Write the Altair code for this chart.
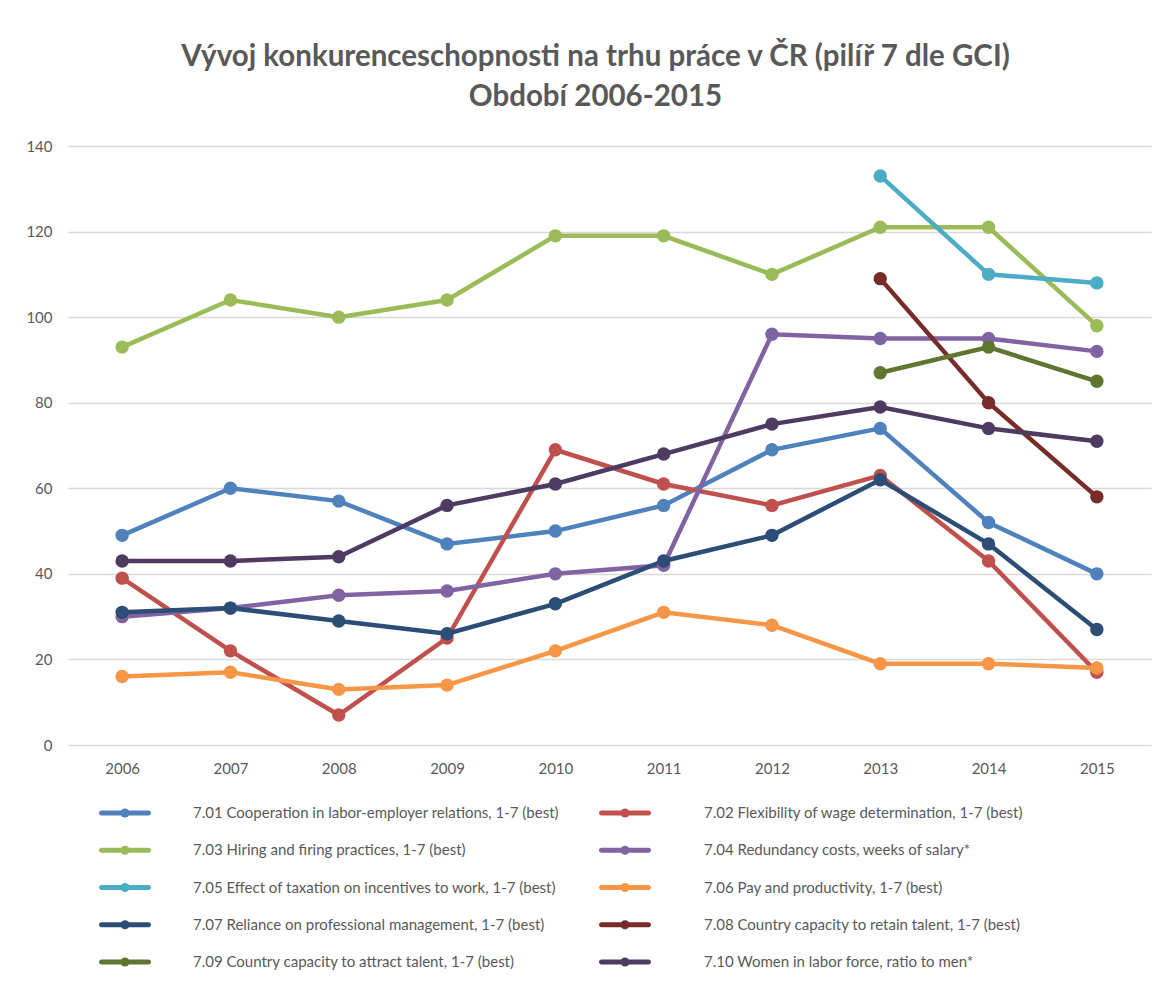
import altair as alt
import pandas as pd

years = ["2006", "2007", "2008", "2009", "2010", "2011", "2012", "2013", "2014", "2015"]

labels = [
    "7.01 Cooperation in labor-employer relations, 1-7 (best)",
    "7.02 Flexibility of wage determination, 1-7 (best)",
    "7.03 Hiring and firing practices, 1-7 (best)",
    "7.04 Redundancy costs, weeks of salary*",
    "7.05 Effect of taxation on incentives to work, 1-7 (best)",
    "7.06 Pay and productivity, 1-7 (best)",
    "7.07 Reliance on professional management, 1-7 (best)",
    "7.08 Country capacity to retain talent, 1-7 (best)",
    "7.09 Country capacity to attract talent, 1-7 (best)",
    "7.10 Women in labor force, ratio to men*",
]

colors = ["#4F81BD", "#C0504D", "#9BBB59", "#8064A2", "#4BACC6",
          "#F79646", "#2C4D75", "#772C2A", "#5F7530", "#4D3B62"]

v701 = [49, 60, 57, 47, 50, 56, 69, 74, 52, 40]
v702 = [39, 22, 7, 25, 69, 61, 56, 63, 43, 17]
v703 = [93, 104, 100, 104, 119, 119, 110, 121, 121, 98]
v704 = [30, 32, 35, 36, 40, 42, 96, 95, 95, 92]
v705 = [None, None, None, None, None, None, None, 133, 110, 108]
v706 = [16, 17, 13, 14, 22, 31, 28, 19, 19, 18]
v707 = [31, 32, 29, 26, 33, 43, 49, 62, 47, 27]
v708 = [None, None, None, None, None, None, None, 109, 80, 58]
v709 = [None, None, None, None, None, None, None, 87, 93, 85]
v710 = [43, 43, 44, 56, 61, 68, 75, 79, 74, 71]

series = [v701, v702, v703, v704, v705, v706, v707, v708, v709, v710]

rows = []
for lab, vals in zip(labels, series):
    for yr, v in zip(years, vals):
        if v is not None:
            rows.append({"year": yr, "series": lab, "value": v})
df = pd.DataFrame(rows)

leg = pd.DataFrame({
    "series": labels,
    "row": [i // 2 for i in range(len(labels))],
    "col": [i % 2 for i in range(len(labels))],
})

FONT = "Lato"
GRAY = "#595959"

color = alt.Color("series:N", scale=alt.Scale(domain=labels, range=colors), legend=None)

x = alt.X("year:O", scale=alt.Scale(type="point", padding=0.5),
          axis=alt.Axis(title=None, labelAngle=0, ticks=False, domain=False,
                        labelPadding=16, labelFontSize=15, labelColor=GRAY, labelFont=FONT))
y = alt.Y("value:Q", scale=alt.Scale(domain=[0, 140]),
          axis=alt.Axis(title=None, values=list(range(0, 141, 20)), ticks=False, domain=False,
                        grid=True, gridColor="#D9D9D9", gridWidth=1.5, labelPadding=16,
                        labelFontSize=15, labelColor=GRAY, labelFont=FONT))

lines = alt.Chart(df).mark_line(strokeWidth=4.5).encode(x=x, y=y, color=color, detail="series:N")
pts = alt.Chart(df).mark_circle(size=180, opacity=1).encode(x=x, y=y, color=color)
main = alt.layer(lines, pts)

lx = alt.X("col:Q", scale=alt.Scale(domain=[0, 1], range=[57, 557]), axis=None)
ly = alt.Y("row:Q", scale=alt.Scale(domain=[0, 4], range=[667, 816]), axis=None)
sym_line = alt.Chart(leg).mark_tick(orient="horizontal", size=52, thickness=5,
                                    opacity=1, cornerRadius=2.5).encode(x=lx, y=ly, color=color)
sym_pt = alt.Chart(leg).mark_circle(size=80, opacity=1).encode(x=lx, y=ly, color=color)
symbols = alt.layer(sym_line, sym_pt)

tx = alt.X("col:Q", scale=alt.Scale(domain=[0, 1], range=[125, 636]), axis=None)
ty = alt.Y("row:Q", scale=alt.Scale(domain=[0, 4], range=[667, 816]), axis=None)
text = alt.Chart(leg).mark_text(align="left", baseline="middle", fontSize=15,
                                color=GRAY, font=FONT).encode(x=tx, y=ty, text="series:N")

chart = alt.layer(main, symbols, text).resolve_scale(
    x="independent", y="independent"
).properties(
    width=1083,
    height=599,
    title=alt.Title(
        ["Vývoj konkurenceschopnosti na trhu práce v ČR (pilíř 7 dle GCI)", "Období 2006-2015"],
        fontSize=29.5, font=FONT, fontWeight="bold", color=GRAY,
        lineHeight=40, offset=27, anchor="middle", dx=-14,
    ),
    autosize=alt.AutoSizeParams(type="none"),
    padding={"left": 60, "top": 138, "right": 8, "bottom": 230},
).configure_view(stroke=None)

chart.save("out.html", embed_options={"renderer": "svg", "actions": False})
